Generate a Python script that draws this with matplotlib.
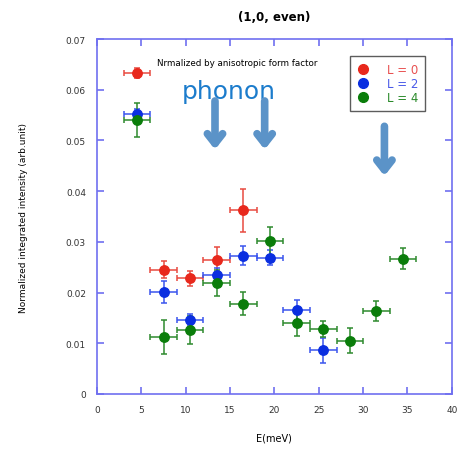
import numpy as np
import matplotlib
matplotlib.use('Agg')
from matplotlib import pyplot as plt
from matplotlib.lines import Line2D

# energies (meV)
E = [4.5, 7.5, 10.5, 13.5, 16.5, 19.5, 22.5, 25.5, 28.5, 31.5, 34.5]
E_err = 1.5

# L = 0
I0 = [0.0634, 0.0245, 0.0228, 0.0265, 0.0362]
I0_err = [0.0010, 0.0017, 0.0015, 0.0024, 0.0043]
# L = 2
I2 = [0.0552, 0.0201, 0.0146, 0.0234, 0.0273, 0.0269, 0.0165, 0.0086]
I2_err = [0.0010, 0.0022, 0.0012, 0.0015, 0.0019, 0.0015, 0.0020, 0.0025]
# L = 4
I4 = [0.0540, 0.0112, 0.0126, 0.0219, 0.0178, 0.0302, 0.0139, 0.0128, 0.0105, 0.0164, 0.0267]
I4_err = [0.0033, 0.0033, 0.0027, 0.0025, 0.0023, 0.0027, 0.0025, 0.0015, 0.0025, 0.0020, 0.0020]

labels = ['L = 0', 'L = 2', 'L = 4']
xticks = [0, 5, 10, 15, 20, 25, 30, 35, 40]
yticks = [0, 0.01, 0.02, 0.03, 0.04, 0.05, 0.06, 0.07]
ytick_labels = ['0', '0.01', '0.02', '0.03', '0.04', '0.05', '0.06', '0.07']

# phonon arrows: x, top, tip
arrows_x = [13.3, 18.9, 32.4]
arrows_top = [0.0578, 0.0578, 0.0528]
arrows_tip = [0.0482, 0.0482, 0.0430]

frame = '#6f6ff0'
mk_col = ['#e8281c', '#0a2ee0', '#0a7d0a']
err_col = ['#e84a40', '#3a55ee', '#2e8a2e']
leg_col = ['#e85050', '#4a5ae8', '#2a8a2a']

fig = plt.figure(figsize=(4.62, 4.56), dpi=100)
ax = fig.add_axes([0.21, 0.134, 0.768, 0.778])

data = [(I0, I0_err), (I2, I2_err), (I4, I4_err)]
for k, (I, Ie) in enumerate(data):
    x = E[:len(I)]
    ax.errorbar(x, I, xerr=E_err, yerr=Ie, fmt='o', ms=6.8, color=mk_col[k],
                ecolor=err_col[k], elinewidth=1.1, capsize=2.2, capthick=1.1,
                mec=mk_col[k], zorder=3)

ax.set_xlim(0, 40)
ax.set_ylim(0, 0.07)
ax.set_xticks(xticks)
ax.set_yticks(yticks)
ax.set_yticklabels(ytick_labels)
for s in ax.spines.values():
    s.set_color(frame)
    s.set_linewidth(1.2)
ax.tick_params(direction='in', length=5, width=1.2, color=frame,
               top=True, right=True, labelsize=6.5, labelcolor='#333333')
ax.tick_params(axis='x', pad=8)
ax.tick_params(axis='y', pad=8)

ax.set_xlabel('E(meV)', fontsize=7, labelpad=13)
ax.set_ylabel('Normalized integrated intensity (arb.unit)', fontsize=6.5, labelpad=27)
ax.set_title('(1,0, even)', fontsize=8.5, fontweight='bold', pad=14)

ax.text(0.17, 0.935, 'Nrmalized by anisotropic form factor', transform=ax.transAxes,
        fontsize=6.3, va='center', ha='left')
ax.text(0.238, 0.853, 'phonon', transform=ax.transAxes, fontsize=18,
        color='#1c7ccc', va='center', ha='left')

for x, t, b in zip(arrows_x, arrows_top, arrows_tip):
    ax.annotate('', xy=(x, b), xytext=(x, t),
                arrowprops=dict(arrowstyle='->, head_length=0.7, head_width=0.55',
                                lw=5.5, color='#5b93c8', shrinkA=0, shrinkB=0))

handles = [Line2D([], [], ls='', marker='o', ms=7, color=c) for c in mk_col]
leg = ax.legend(handles, labels, loc='upper right', bbox_to_anchor=(0.925, 0.952),
                fontsize=8.5, frameon=True, fancybox=False, labelcolor=leg_col,
                handlelength=1.0, handletextpad=1.6, borderpad=0.55,
                labelspacing=0.12, borderaxespad=0)
leg.get_frame().set_edgecolor('#333333')
leg.get_frame().set_linewidth(1.0)

plt.savefig('out.png', dpi=100)
